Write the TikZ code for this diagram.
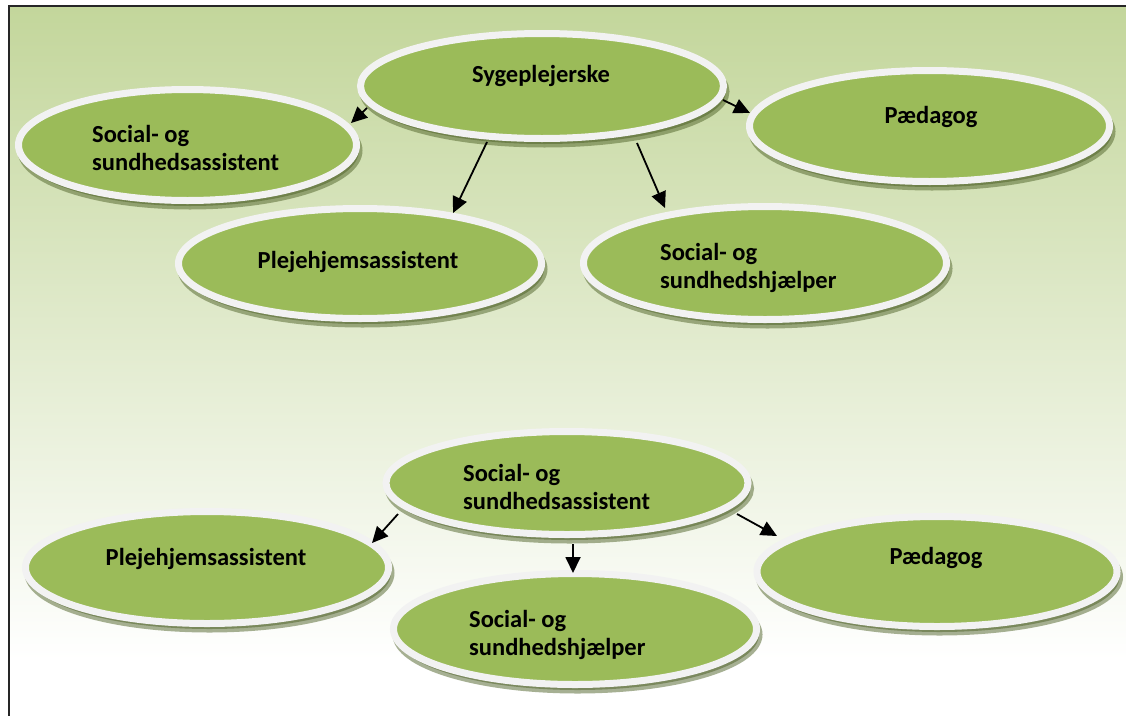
\documentclass[tikz,border=0pt]{standalone}
\usepackage{fontspec}
\setmainfont{Carlito}
\usetikzlibrary{shapes.geometric,shadows,arrows.meta,calc}
\definecolor{bgtop}{HTML}{C3D69B}
\definecolor{ellfill}{HTML}{9BBB59}
\definecolor{ringc}{HTML}{F2F2F2}
\definecolor{shad}{HTML}{4F6228}
\definecolor{framec}{HTML}{262626}
\begin{document}
\begin{tikzpicture}[x=1pt,y=-1pt,
  oval/.style={ellipse, fill=ellfill, draw=ringc, line width=7pt, inner sep=0pt,
     drop shadow={shadow xshift=2.5pt, shadow yshift=-5.5pt, fill=shad, draw=shad, line width=7pt, opacity=0.5}},
  lbl/.style={font=\fontsize{24.5}{28}\selectfont\bfseries, inner sep=0pt, text=black},
  arr/.style={-{Triangle[length=16pt,width=15pt]}, line width=1.8pt, black}
]
\useasboundingbox (0,0) rectangle (1126,715);
\fill[white] (0,0) rectangle (1126,715);
\shade[top color=bgtop, bottom color=white] (9,6) rectangle (1126,660);
\draw[framec, line width=2pt] (9,716) -- (9,6) -- (1127,6);

\node[oval, minimum width=363pt, minimum height=105pt] (syge) at (542,86) {};
\node[oval, minimum width=338pt, minimum height=111pt] (ssa1) at (187.5,145) {};
\node[oval, minimum width=360pt, minimum height=111pt] (paed1) at (929.5,126) {};
\node[oval, minimum width=363pt, minimum height=110pt] (pleje1) at (360,263.5) {};
\node[oval, minimum width=363pt, minimum height=113pt] (ssh1) at (765,263) {};
\node[oval, minimum width=362pt, minimum height=103pt] (ssa2) at (567,483) {};
\node[oval, minimum width=363pt, minimum height=112pt] (pleje2) at (207,567.5) {};
\node[oval, minimum width=360pt, minimum height=110pt] (paed2) at (937,571.5) {};
\node[oval, minimum width=363pt, minimum height=111pt] (ssh2) at (575,629) {};

\node[lbl, anchor=base] (tsyge) at (541,82) {Sygeplejerske};
\node[lbl, anchor=base west, align=left] (tssa1) at (92,170) {Social- og\\sundhedsassistent};
\node[lbl, anchor=base] (tpaed1) at (931,123) {Pædagog};
\node[lbl, anchor=base] (tpleje1) at (358,268) {Plejehjemsassistent};
\node[lbl, anchor=base west, align=left] (tssh1) at (660,288) {Social- og\\sundhedshjælper};
\node[lbl, anchor=base west, align=left] (tssa2) at (463,509) {Social- og\\sundhedsassistent};
\node[lbl, anchor=base] (tpleje2) at (206,565) {Plejehjemsassistent};
\node[lbl, anchor=base] (tpaed2) at (936,564) {Pædagog};
\node[lbl, anchor=base west, align=left] (tssh2) at (469,655) {Social- og\\sundhedshjælper};

\draw[arr] ($(syge.center)+(-55,56)$) -- ($(pleje1.center)+(93,-50.5)$);
\draw[arr] ($(syge.center)+(95,57)$) -- ($(ssh1.center)+(-100,-55)$);
\draw[arr] ($(syge.center)+(-175,22)$) -- ($(ssa1.center)+(163.5,-22)$);
\draw[arr] ($(syge.center)+(181,14)$) -- ($(paed1.center)+(-179.5,-13)$);
\draw[arr] ($(ssa2.center)+(-169,31)$) -- ($(pleje2.center)+(165,-24.5)$);
\draw[arr] ($(ssa2.center)+(170,31)$) -- ($(paed2.center)+(-160,-35.5)$);
\draw[arr] ($(ssa2.center)+(6,61)$) -- ($(ssh2.center)+(-2,-56)$);
\end{tikzpicture}
\end{document}
